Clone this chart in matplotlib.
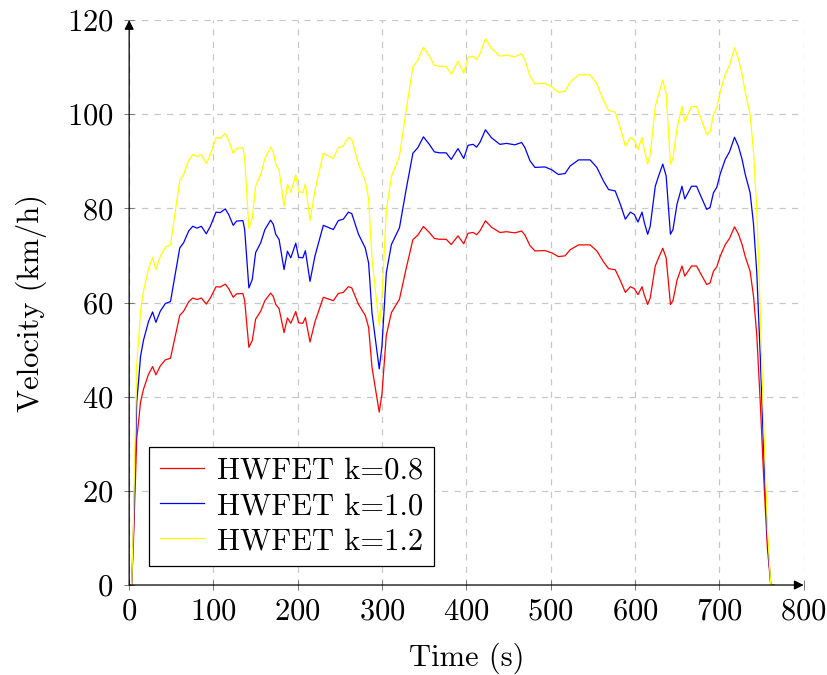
import matplotlib
matplotlib.use('Agg')
import matplotlib.pyplot as plt

plt.rcParams['font.family'] = 'cmr10'
plt.rcParams['mathtext.fontset'] = 'cm'
plt.rcParams['axes.formatter.use_mathtext'] = True

time_s = [0, 3, 5, 7, 9, 11, 13.5, 17, 23, 27.8, 31.7, 37, 43, 49, 55, 60, 64.6, 70.6,
          75.4, 80.5, 85.6, 91.5, 96.3, 103, 108, 114, 118, 123.4, 127.4, 134.9, 137,
          142, 146, 150, 156, 161, 167.7, 171, 173.8, 177.8, 183.7, 187.7, 191.7, 197.6,
          201, 206, 209, 214.5, 220.4, 230.3, 242.2, 248, 254, 260, 264, 272, 280, 284,
          288, 296.6, 299.8, 305, 311, 320.6, 328.5, 336.5, 342.4, 349, 356, 362, 368,
          376, 382, 390, 396.8, 402, 408, 412, 416, 422.6, 429.7, 439.7, 447.6, 457.5,
          465.5, 469.4, 475.4, 481.3, 493.2, 501.2, 509, 517, 523, 533, 546.7, 554.7,
          562.6, 568.6, 576.5, 582.5, 588.5, 594.4, 599.2, 603.5, 608.3, 611, 615, 618,
          624, 628, 632.9, 636.9, 642, 645, 649.8, 655.7, 659, 667, 673, 679, 685, 689,
          693, 697, 701, 707, 712, 718, 722.6, 727, 730.6, 736.5, 740.5, 744.4, 748.4,
          752.4, 757, 761, 765]
speed_base = [0, 0, 11, 25, 39, 43, 48.6, 52, 56, 58, 55.8, 58.2, 59.8, 60.2, 66.4, 71.6,
              72.7, 75.2, 76.2, 75.8, 76.2, 74.6, 76.2, 79.2, 79.1, 79.9, 78.7, 76.4, 77.3,
              77.4, 75.5, 63.1, 64.9, 70.6, 72.7, 75.5, 77.5, 76.6, 74.5, 73.4, 67, 70.9,
              69.5, 72.6, 69.6, 69.5, 71, 64.5, 69.9, 76.4, 75.5, 77.4, 77.7, 79.2, 78.9,
              74.5, 71.6, 68.4, 57.8, 45.9, 50.7, 66.3, 72.3, 75.9, 84, 91.7, 92.9, 95.2,
              93.6, 92, 91.8, 91.8, 90.4, 92.7, 90.6, 93.4, 93.6, 93, 94, 96.7, 95, 93.6,
              93.8, 93.5, 94, 92.9, 90.1, 88.7, 88.8, 88.2, 87.2, 87.4, 89, 90.3, 90.3,
              88.7, 85.8, 84, 83.7, 80.9, 77.7, 79.2, 78.7, 77.1, 79.2, 77, 74.5, 76.2,
              84.7, 86.9, 89.4, 86.9, 74.5, 75.5, 80.9, 84.7, 82, 84.7, 84.7, 82.2, 79.8,
              80.2, 83.3, 84.5, 87.3, 90.4, 92, 95.1, 93.2, 90.4, 87.3, 83.3, 76.7, 66.4,
              49.1, 29.5, 9.8, 0, 0]

k_values = [0.8, 1.0, 1.2]
labels = ['HWFET k=0.8', 'HWFET k=1.0', 'HWFET k=1.2']
colors = ['#ff0000', '#0000ff', '#ffff00']

fig = plt.figure(figsize=(8.28, 6.75), dpi=100)
ax = fig.add_axes([0.156, 0.1333, 0.8146, 0.837])

for k, lab, c in zip(k_values, labels, colors):
    ax.plot(time_s, [k * v for v in speed_base], color=c, lw=0.9, label=lab)

ax.set_xlim(0, 800)
ax.set_ylim(0, 120)
ax.set_xticks(range(0, 801, 100))
ax.set_yticks(range(0, 121, 20))
ax.grid(True, color='#c8c8c8', linestyle=(0, (5, 5)), linewidth=0.9)
ax.set_axisbelow(True)
for s in ax.spines.values():
    s.set_visible(False)
ax.tick_params(direction='inout', length=7, width=0.7, color='#777777',
               labelsize=22)
ax.tick_params(axis='x', pad=6)
ax.tick_params(axis='y', pad=8)

# axis lines with arrow heads
ax.annotate('', xy=(1.0, 0), xytext=(0, 0), xycoords='axes fraction',
            arrowprops=dict(arrowstyle='-|>', color='black', lw=0.9,
                            mutation_scale=14, shrinkA=0, shrinkB=0))
ax.annotate('', xy=(0, 1.0), xytext=(0, 0), xycoords='axes fraction',
            arrowprops=dict(arrowstyle='-|>', color='black', lw=0.9,
                            mutation_scale=14, shrinkA=0, shrinkB=0))

ax.set_xlabel('Time (s)', fontsize=22, labelpad=12)
ax.set_ylabel('Velocity (km/h)', fontsize=22, labelpad=14)

leg = ax.legend(loc='lower left', bbox_to_anchor=(0.03, 0.034), fontsize=22,
                handlelength=1.45, labelspacing=0.25, borderpad=0.35,
                handletextpad=0.4, fancybox=False, framealpha=1, borderaxespad=0)
leg.get_frame().set_edgecolor('black')
leg.get_frame().set_linewidth(0.9)

fig.savefig('out.png', dpi=100)
